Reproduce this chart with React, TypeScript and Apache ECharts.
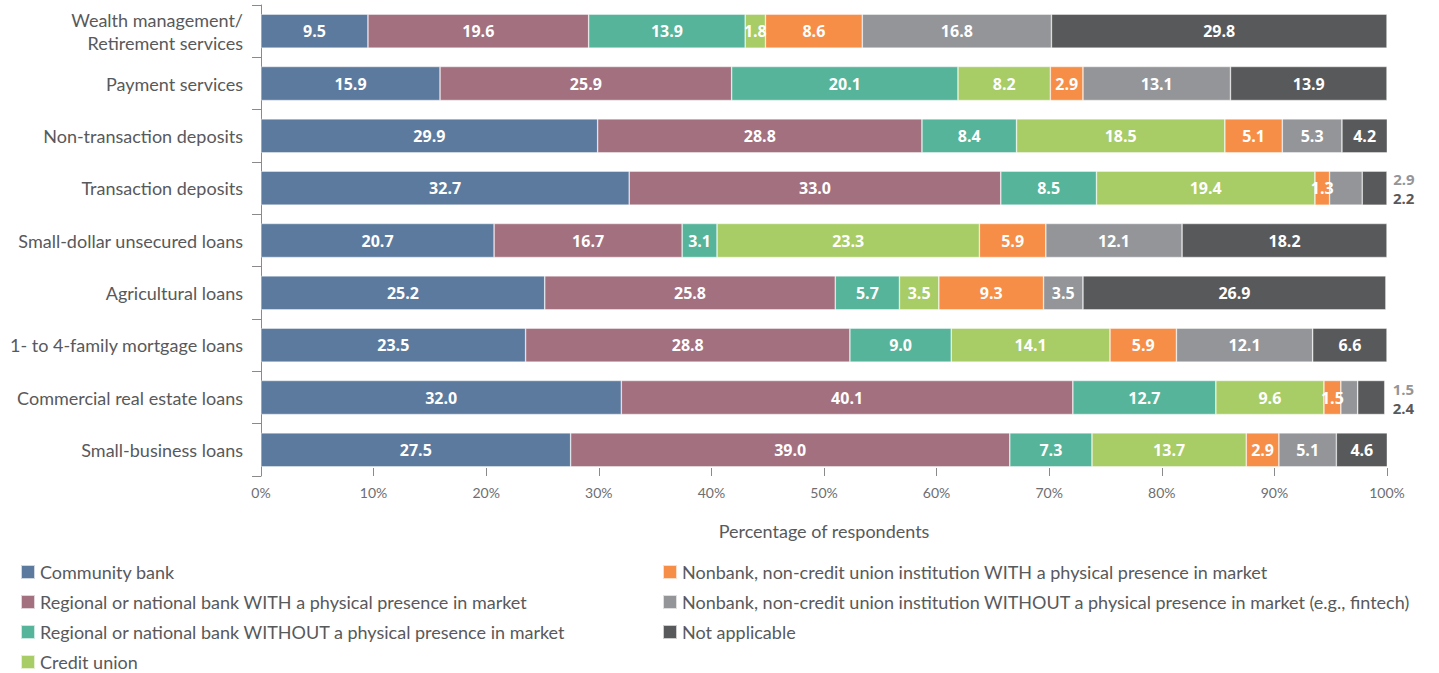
import React, { useEffect, useRef } from "react";
import * as echarts from "echarts";

const categories = [
  "Wealth management/\nRetirement services",
  "Payment services",
  "Non-transaction deposits",
  "Transaction deposits",
  "Small-dollar unsecured loans",
  "Agricultural loans",
  "1- to 4-family mortgage loans",
  "Commercial real estate loans",
  "Small-business loans",
];

const seriesNames = [
  "Community bank",
  "Regional or national bank WITH a physical presence in market",
  "Regional or national bank WITHOUT a physical presence in market",
  "Credit union",
  "Nonbank, non-credit union institution WITH a physical presence in market",
  "Nonbank, non-credit union institution WITHOUT a physical presence in market (e.g., fintech)",
  "Not applicable",
];

const communityBank = [9.5, 15.9, 29.9, 32.7, 20.7, 25.2, 23.5, 32.0, 27.5];
const regionalWith = [19.6, 25.9, 28.8, 33.0, 16.7, 25.8, 28.8, 40.1, 39.0];
const regionalWithout = [13.9, 20.1, 8.4, 8.5, 3.1, 5.7, 9.0, 12.7, 7.3];
const creditUnion = [1.8, 8.2, 18.5, 19.4, 23.3, 3.5, 14.1, 9.6, 13.7];
const nonbankWith = [8.6, 2.9, 5.1, 1.3, 5.9, 9.3, 5.9, 1.5, 2.9];
const nonbankWithout = [16.8, 13.1, 5.3, 2.9, 12.1, 3.5, 12.1, 1.5, 5.1];
const notApplicable = [29.8, 13.9, 4.2, 2.2, 18.2, 26.9, 6.6, 2.4, 4.6];

const xTicks = [0, 10, 20, 30, 40, 50, 60, 70, 80, 90, 100];

const colors = ["#5b7a9e", "#a2707f", "#56b49a", "#a8cc66", "#f68e47", "#939598", "#58595a"];

const FONT = "Lato, 'Open Sans', sans-serif";
const BOLD_FONT = "'Open Sans', sans-serif";

// Segments whose labels sit outside the bar, on the right (category index -> offset)
const outsideGray: Record<number, number[]> = { 3: [26, -9], 7: [30, -9] };
const outsideDark: Record<number, number[]> = { 3: [1, 10], 7: [3, 10] };

export default function App() {
  const ref = useRef<HTMLDivElement>(null);

  useEffect(() => {
    if (!ref.current) return;
    const chart = echarts.init(ref.current, null, { renderer: "svg" });
    const allData = [
      communityBank,
      regionalWith,
      regionalWithout,
      creditUnion,
      nonbankWith,
      nonbankWithout,
      notApplicable,
    ];
    const series = allData.map((arr, si) => ({
      name: seriesNames[si],
      type: "bar",
      stack: "total",
      barWidth: 34,
      itemStyle: { color: colors[si], borderColor: "rgba(255,255,255,0.7)", borderWidth: 0.6 },
      label: {
        show: true,
        position: "inside",
        color: "#ffffff",
        fontFamily: BOLD_FONT,
        fontWeight: 700,
        fontSize: 16,
        formatter: (p: any) => Number(p.value).toFixed(1),
      },
      data: arr.map((v, ci) => {
        const off = si === 5 ? outsideGray[ci] : si === 6 ? outsideDark[ci] : undefined;
        if (off) {
          return {
            value: v,
            label: {
              position: "right",
              distance: 5,
              offset: off,
              color: colors[si],
              fontSize: 15,
              lineHeight: 15,
            },
          };
        }
        return v;
      }),
    }));

    const legendText = { color: "#58595b", fontSize: 18, fontFamily: FONT };

    chart.setOption({
      animation: false,
      grid: { left: 261, right: 52, top: 5, height: 471, containLabel: false },
      legend: [
        {
          data: seriesNames.slice(0, 4),
          orient: "vertical",
          left: 20,
          top: 563,
          height: 130,
          padding: 0,
          icon: "rect",
          itemWidth: 14,
          itemHeight: 14,
          itemGap: 12,
          selectedMode: false,
          textStyle: legendText,
        },
        {
          data: seriesNames.slice(4),
          orient: "vertical",
          left: 662,
          top: 563,
          height: 130,
          padding: 0,
          icon: "rect",
          itemWidth: 14,
          itemHeight: 14,
          itemGap: 12,
          selectedMode: false,
          textStyle: legendText,
        },
      ],
      xAxis: {
        type: "value",
        min: 0,
        max: 100,
        interval: 10,
        name: "Percentage of respondents",
        nameLocation: "middle",
        nameGap: 46,
        nameTextStyle: { color: "#58595b", fontSize: 18, fontFamily: FONT },
        axisLine: { show: false },
        axisTick: { show: true, inside: true, length: 8, lineStyle: { color: "#8a8a8a" } },
        splitLine: { show: false },
        axisLabel: {
          color: "#6d6e71",
          fontSize: 14,
          fontFamily: FONT,
          margin: 9,
          formatter: (v: number) => (xTicks.includes(v) ? v + "%" : ""),
        },
      },
      yAxis: {
        type: "category",
        data: categories,
        inverse: true,
        axisLine: { show: true, lineStyle: { color: "#8a8a8a", width: 1 } },
        axisTick: { show: true, length: 9, lineStyle: { color: "#8a8a8a" } },
        axisLabel: {
          color: "#58595b",
          fontSize: 18,
          fontFamily: FONT,
          margin: 18,
          lineHeight: 23,
        },
      },
      series,
    });
    return () => chart.dispose();
  }, []);

  return (
    <div
      ref={ref}
      style={{ position: "absolute", left: 0, top: 0, width: 1439, height: 673 }}
    />
  );
}
